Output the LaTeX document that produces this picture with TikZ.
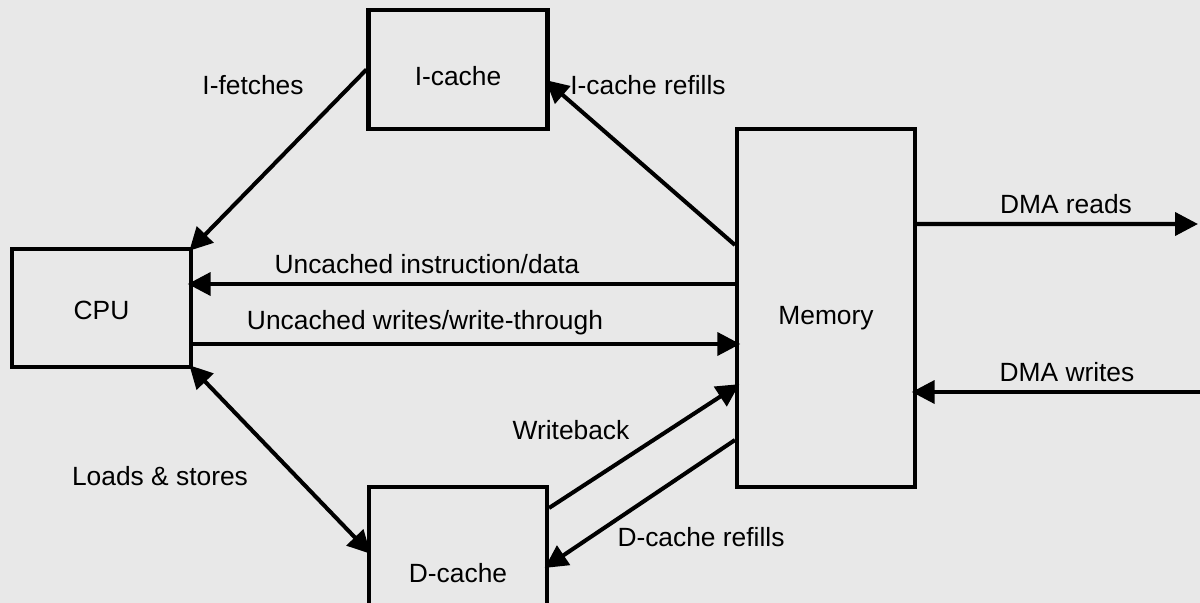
\documentclass[tikz,border=0pt]{standalone}
\usepackage{fontspec}
\setmainfont{Liberation Sans}
\usepackage{xcolor}
\usetikzlibrary{arrows.meta,calc,positioning}
\definecolor{bggray}{HTML}{E8E8E8}

\begin{document}
\begin{tikzpicture}[>={Triangle[length=6.5pt,width=6.5pt]},
  unit/.style={draw,line width=1.15pt,minimum width=1.79cm,inner sep=0pt,text depth=0pt},
  flow/.style={line width=1.15pt,shorten >=-1.5pt},
  lbl/.style={font=\fontsize{7.5}{9}\selectfont}]
\fill[bggray] (0,0) rectangle (12,-6.03);
\useasboundingbox (0,0) rectangle (12,-6.03);
\clip (0,0) rectangle (12,-6.03);
% boxes
\node[unit,minimum height=1.18cm,text height=0.23cm,lbl] (cpu) at (1.015,-3.08) {CPU};
\node[unit,minimum height=1.19cm,text height=0.31cm,lbl] (icache) at (4.58,-0.695) {I-cache};
\node[unit,minimum width=1.78cm,minimum height=3.58cm,text height=0.33cm,lbl] (mem) at (8.26,-3.08) {Memory};
\node[unit,minimum width=1.78cm,minimum height=1.72cm,lbl] (dcache) at (4.58,-5.73) {D-cache};
\coordinate (dmaout) at (11.98,-2.24); \coordinate (dmain) at (12.02,-3.92);
% connectors
\draw[flow,->] (icache.west) -- (cpu.north east);
\draw[flow,->] ([yshift=0.63cm]mem.west) -- ([yshift=-0.14cm]icache.east);
\draw[flow,->] ([yshift=0.24cm]mem.west) -- ([yshift=0.24cm]cpu.east);
\draw[flow,->] ([yshift=-0.36cm]cpu.east) -- ([yshift=-0.36cm]mem.west);
\draw[flow,<->,shorten <=-1.5pt] (cpu.south east) -- ([yshift=0.23cm]dcache.west);
\draw[flow,->] ([yshift=0.65cm]dcache.east) -- ([yshift=-0.79cm]mem.west);
\draw[flow,->] ([yshift=-1.32cm]mem.west) -- ([yshift=0.08cm]dcache.east);
\draw[flow,->,shorten >=0pt] ([yshift=0.84cm]mem.east) -- (dmaout);
\draw[flow,->] (dmain) -- ([yshift=-0.84cm]mem.east);
% labels
\node[lbl] at (2.53,-0.85) {I-fetches};
\node[lbl] at (6.48,-0.85) {I-cache refills};
\node[lbl] at (4.27,-2.64) {Uncached instruction/data};
\node[lbl] at (4.25,-3.23) {Uncached writes/write-through};
\node[lbl] at (10.66,-2.04) {DMA reads};
\node[lbl] at (10.67,-3.72) {DMA writes};
\node[lbl] at (5.71,-4.30) {Writeback};
\node[lbl] at (1.60,-4.76) {Loads \& stores};
\node[lbl] at (7.01,-5.37) {D-cache refills};
\end{tikzpicture}
\end{document}
